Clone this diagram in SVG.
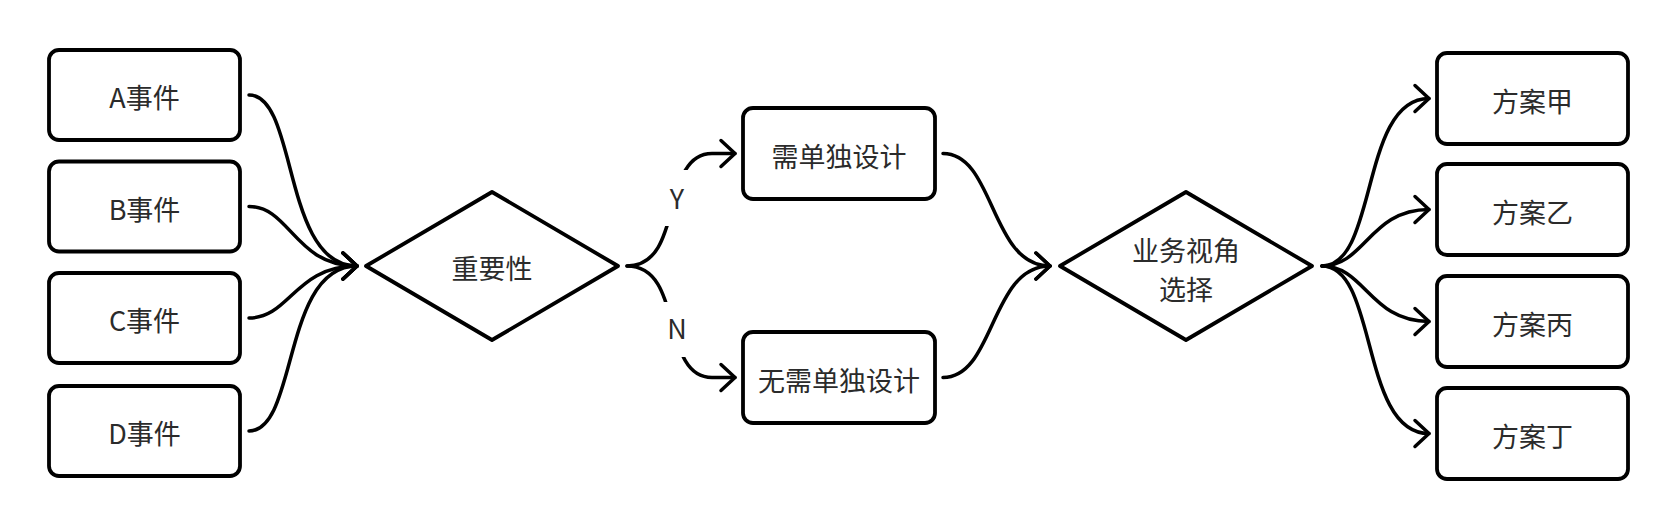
<svg xmlns="http://www.w3.org/2000/svg" width="1678" height="530" viewBox="0 0 1678 530">
<style>
.box{fill:#fff;stroke:#000;stroke-width:3.8}
.dia{fill:#fff;stroke:#000;stroke-width:3.8;stroke-linejoin:round}
.lbl{font-family:"Noto Sans CJK SC","Noto Sans",sans-serif;font-size:27px;fill:#2b2b2b;text-anchor:middle}
.edge{fill:none;stroke:#000;stroke-width:3.5;stroke-linecap:round}
.bg{fill:#fff}
</style>
<defs>
<marker id="arr" markerUnits="userSpaceOnUse" viewBox="-20 -20 40 40" markerWidth="40" markerHeight="40" refX="0" refY="0" orient="auto" overflow="visible">
<path d="M-14,-13 L0,0 L-14,13" fill="none" stroke="#000" stroke-width="3.5" stroke-linecap="round" stroke-linejoin="round"/>
</marker>
</defs>
<g id="connectors">
<path class="edge" marker-end="url(#arr)" d="M249,95 C298,95 282,266 357,266"/>
<path class="edge" marker-end="url(#arr)" d="M249,206.5 C290,206.5 295,266 357,266"/>
<path class="edge" marker-end="url(#arr)" d="M249,318 C290,318 295,266 357,266"/>
<path class="edge" marker-end="url(#arr)" d="M249,431 C298,431 282,266 357,266"/>
<path class="edge" marker-end="url(#arr)" d="M627,266 C685,266 660,153.5 712,153.5 L735,153.5"/>
<path class="edge" marker-end="url(#arr)" d="M627,266 C685,266 660,377.5 712,377.5 L735,377.5"/>
<rect class="bg" x="655" y="170" width="45" height="56"/>
<text class="lbl" x="677" y="209">Y</text>
<rect class="bg" x="655" y="302" width="45" height="55"/>
<text class="lbl" x="677" y="339">N</text>
<path class="edge" marker-end="url(#arr)" d="M943,153.5 C995,153.5 990,266 1050,266"/>
<path class="edge" marker-end="url(#arr)" d="M943,377.5 C995,377.5 990,266 1050,266"/>
<path class="edge" marker-end="url(#arr)" d="M1322,266 C1378,266 1360,98.5 1429,98.5"/>
<path class="edge" marker-end="url(#arr)" d="M1322,266 C1365,266 1370,209.5 1429,209.5"/>
<path class="edge" marker-end="url(#arr)" d="M1322,266 C1365,266 1370,321.5 1429,321.5"/>
<path class="edge" marker-end="url(#arr)" d="M1322,266 C1378,266 1360,433.5 1429,433.5"/>
</g>
<g id="eventA"><rect class="box" x="49" y="50" width="191" height="90" rx="10"/><text class="lbl" x="144.5" y="108">A事件</text></g>
<g id="eventB"><rect class="box" x="49" y="161.5" width="191" height="90" rx="10"/><text class="lbl" x="144.5" y="219.5">B事件</text></g>
<g id="eventC"><rect class="box" x="49" y="273" width="191" height="90" rx="10"/><text class="lbl" x="144.5" y="331">C事件</text></g>
<g id="eventD"><rect class="box" x="49" y="386" width="191" height="90" rx="10"/><text class="lbl" x="144.5" y="444">D事件</text></g>
<g id="importance"><polygon class="dia" points="366,266 492,192 618,266 492,340"/><text class="lbl" x="492" y="279">重要性</text></g>
<g id="needDesign"><rect class="box" x="743" y="108" width="192" height="91" rx="10"/><text class="lbl" x="839" y="167">需单独设计</text></g>
<g id="noNeedDesign"><rect class="box" x="743" y="332" width="192" height="91" rx="10"/><text class="lbl" x="839" y="391">无需单独设计</text></g>
<g id="bizView"><polygon class="dia" points="1060,266 1186,192 1312,266 1186,340"/><text class="lbl" x="1186" y="261">业务视角</text><text class="lbl" x="1186" y="299.5">选择</text></g>
<g id="planJia"><rect class="box" x="1437" y="53" width="191" height="91" rx="10"/><text class="lbl" x="1532.5" y="111.5">方案甲</text></g>
<g id="planYi"><rect class="box" x="1437" y="164" width="191" height="91" rx="10"/><text class="lbl" x="1532.5" y="222.5">方案乙</text></g>
<g id="planBing"><rect class="box" x="1437" y="276" width="191" height="91" rx="10"/><text class="lbl" x="1532.5" y="334.5">方案丙</text></g>
<g id="planDing"><rect class="box" x="1437" y="388" width="191" height="91" rx="10"/><text class="lbl" x="1532.5" y="446.5">方案丁</text></g>
</svg>
